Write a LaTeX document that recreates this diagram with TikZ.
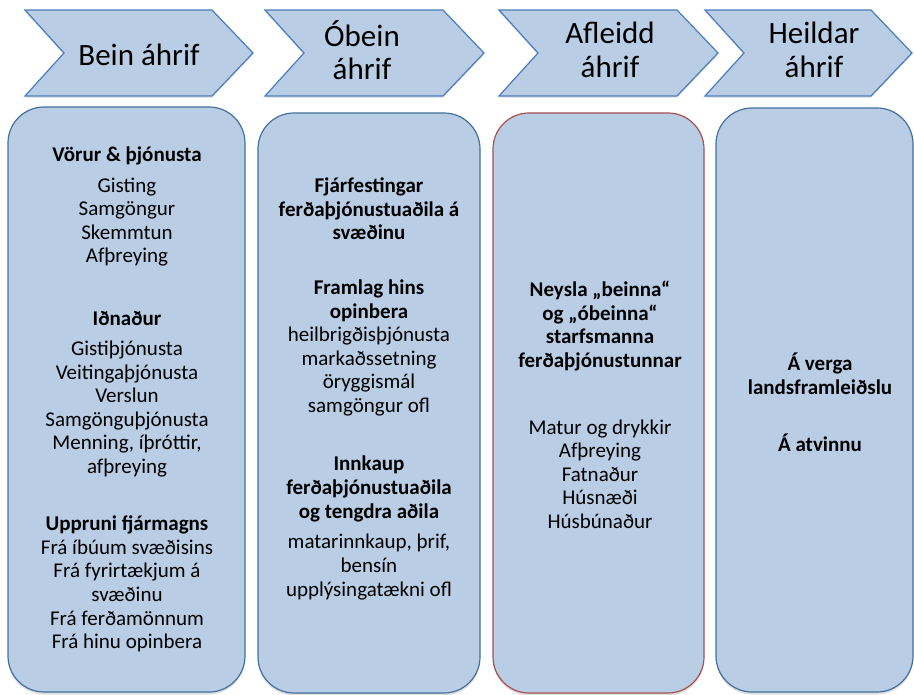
\documentclass[tikz,border=0pt]{standalone}
\usepackage{fontspec}
\setmainfont{Carlito}
\usetikzlibrary{positioning,shadows}
\definecolor{panelfill}{HTML}{B9CDE5}
\definecolor{panelline}{HTML}{41719C}
\definecolor{redline}{HTML}{A5524F}
\definecolor{chevline}{HTML}{4A7EBB}

\begin{document}
\begin{tikzpicture}[x=1pt, y=-1pt,
  chev/.style={draw=chevline, fill=panelfill, line width=1.2pt, line join=miter,
               drop shadow={shadow xshift=0pt, shadow yshift=-2pt, opacity=0.2}},
  panel/.style={draw=panelline, fill=panelfill, line width=1.2pt, rounded corners=36pt,
                inner sep=0pt, drop shadow={shadow xshift=0pt, shadow yshift=-2.5pt, opacity=0.25}},
  htext/.style={align=center, inner sep=0pt, font=\fontsize{31}{33.5}\selectfont},
  btext/.style={align=center, inner sep=0pt, font=\fontsize{21}{23.6}\selectfont},
  bhead/.style={btext, font=\fontsize{21}{23.6}\selectfont\bfseries}
]
  \useasboundingbox (0,0) rectangle (914,695);

  % chevrons along the top
  \foreach \l/\r in {25/253, 265/484, 499/718, 705/912}
    \draw[chev] (\l,10) -- (\r-41,10) -- (\r,53) -- (\r-41,96) -- (\l,96) -- (\l+39,53) -- cycle;
  \node[htext] (bein) at (139,55) {Bein áhrif};
  \node[htext] (obein) at (362,50) {Óbein\\áhrif};
  \node[htext] (afleidd) at (610,50) {Afleidd\\áhrif};
  \node[htext] (heild) at (814,50) {Heildar\\áhrif};

  % columns
  \node[panel, minimum width=237, minimum height=585] (col1) at (126.5,399.5) {};
  \node[panel, minimum width=222, minimum height=580] (col2) at (369,403) {};
  \node[panel, draw=redline, minimum width=211, minimum height=580] (col3) at (598.5,403) {};
  \node[panel, minimum width=197, minimum height=584] (col4) at (814.5,400) {};

  % column 1
  \node[bhead] (vorur) at (127,156) {Vörur \& þjónusta};
  \node[btext] (vorurlist) at (127,222) {Gisting\\Samgöngur\\Skemmtun\\Afþreying};
  \node[bhead] (idn) at (127,318) {Iðnaður};
  \node[btext] (idnlist) at (127,409)
    {Gistiþjónusta\\Veitingaþjónusta\\Verslun\\Samgönguþjónusta\\Menning, íþróttir,\\afþreying};
  \node[btext] (fjar) at (127,584)
    {\textbf{Uppruni fjármagns}\\Frá íbúum svæðisins\\Frá fyrirtækjum á\\svæðinu\\Frá ferðamönnum\\Frá hinu opinbera};

  % column 2
  \node[bhead] (fjarf) at (369,209) {Fjárfestingar\\ferðaþjónustuaðila á\\svæðinu};
  \node[btext] (framlag) at (369,348)
    {\textbf{Framlag hins}\\\textbf{opinbera}\\heilbrigðisþjónusta\\markaðssetning\\öryggismál\\samgöngur ofl};
  \node[bhead] (innk) at (369,489) {Innkaup\\ferðaþjónustuaðila\\og tengdra aðila};
  \node[btext] (innklist) at (369,567) {matarinnkaup, þrif,\\bensín\\upplýsingatækni ofl};

  % column 3
  \node[bhead] (neysla) at (600,326) {Neysla „beinna“\\og „óbeinna“\\starfsmanna\\ferðaþjónustunnar};
  \node[btext] (neyslalist) at (600,474) {Matur og drykkir\\Afþreying\\Fatnaður\\Húsnæði\\Húsbúnaður};

  % column 4
  \node[bhead] (verga) at (820,374) {Á verga\\landsframleiðslu};
  \node[bhead] (atv) at (820,443) {Á atvinnu};
\end{tikzpicture}
\end{document}
